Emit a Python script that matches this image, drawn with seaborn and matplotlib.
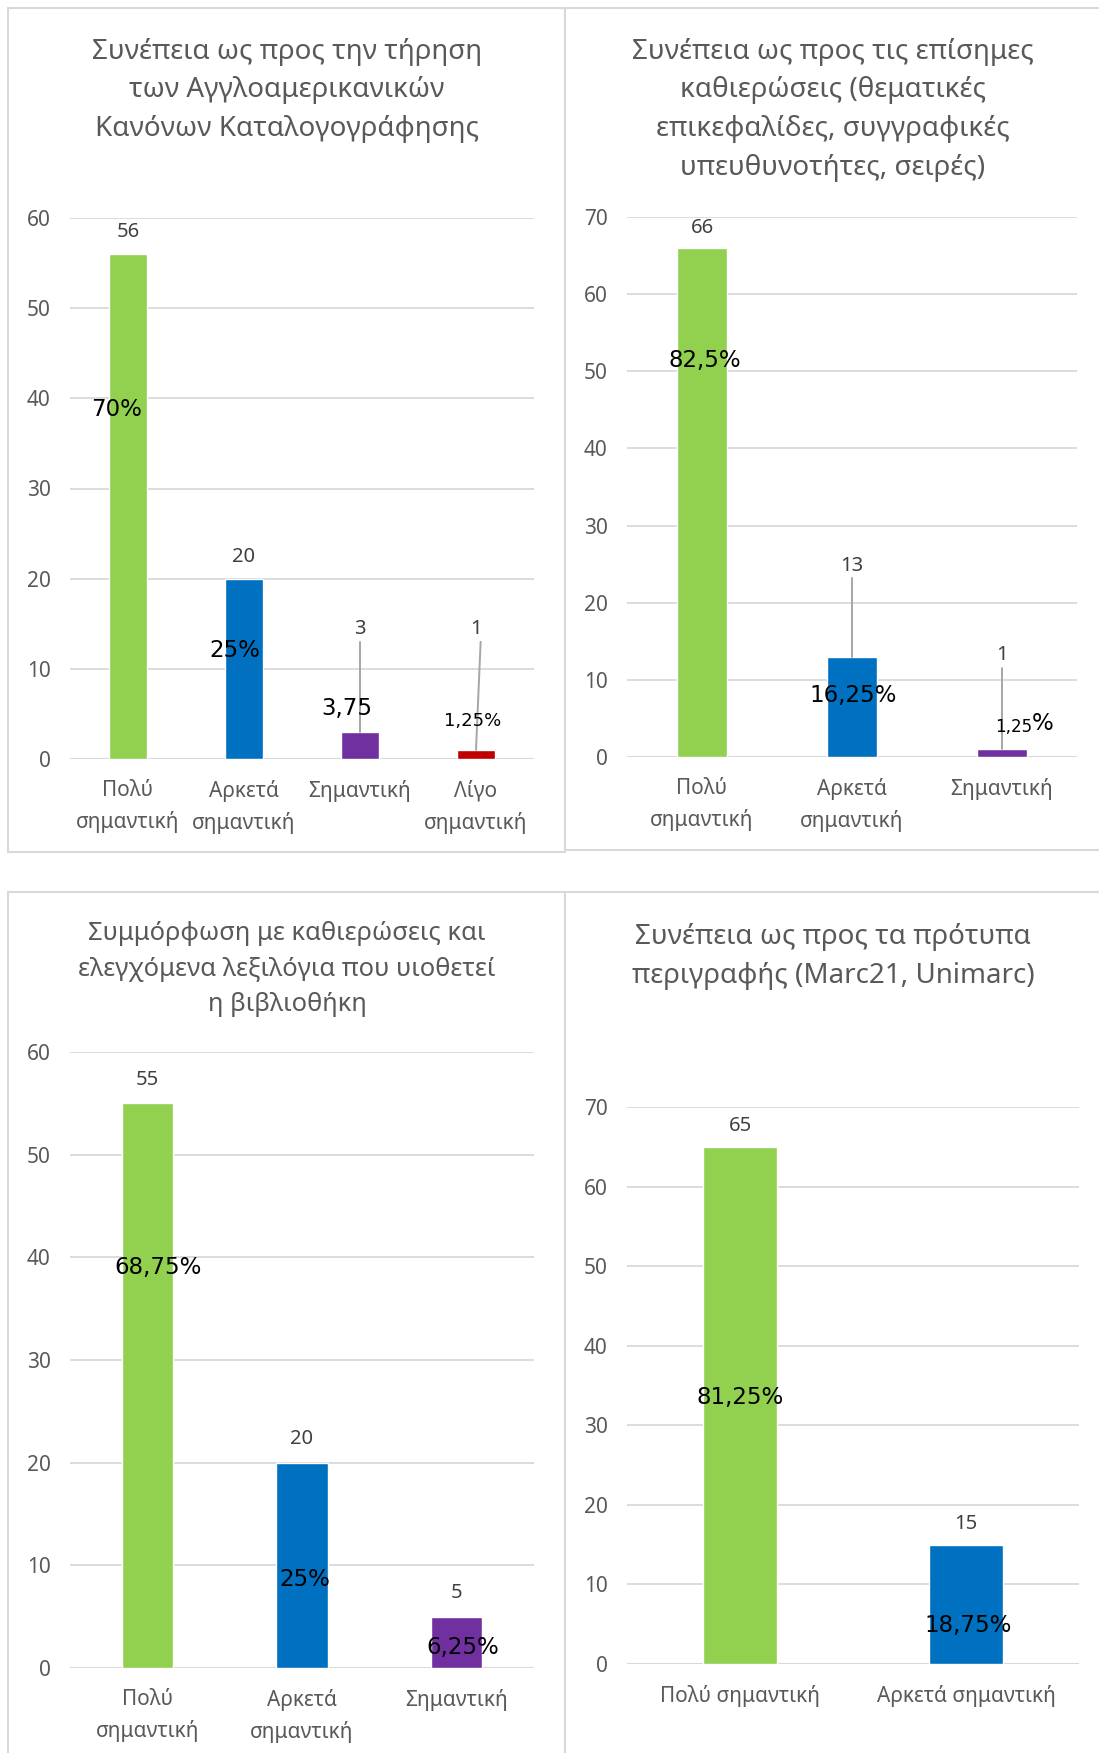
import matplotlib
matplotlib.use("Agg")
import matplotlib.pyplot as plt
import seaborn as sns
import pandas as pd
from matplotlib.patches import Rectangle

sns.set_theme(style="white")
plt.rcParams['font.family'] = ['Noto Sans', 'DejaVu Sans']

GREEN, BLUE, PURPLE, RED = "#92D050", "#0070C0", "#7030A0", "#C00000"

# ---------------- data ----------------
c1_title = "Συνέπεια ως προς την τήρηση\nτων Αγγλοαμερικανικών\nΚανόνων Καταλογογράφησης"
c1_categories = ["Πολύ\nσημαντική", "Αρκετά\nσημαντική", "Σημαντική", "Λίγο\nσημαντική"]
c1_values = [56, 20, 3, 1]
c1_pct = ["70%", "25%", "3,75", "1,25%"]

c2_title = "Συνέπεια ως προς τις επίσημες\nκαθιερώσεις (θεματικές\nεπικεφαλίδες, συγγραφικές\nυπευθυνοτήτες, σειρές)"
c2_categories = ["Πολύ\nσημαντική", "Αρκετά\nσημαντική", "Σημαντική"]
c2_values = [66, 13, 1]
c2_pct = ["82,5%", "16,25%", "1,25%"]

c3_title = "Συμμόρφωση με καθιερώσεις και\nελεγχόμενα λεξιλόγια που υιοθετεί\nη βιβλιοθήκη"
c3_categories = ["Πολύ\nσημαντική", "Αρκετά\nσημαντική", "Σημαντική"]
c3_values = [55, 20, 5]
c3_pct = ["68,75%", "25%", "6,25%"]

c4_title = "Συνέπεια ως προς τα πρότυπα\nπεριγραφής (Marc21, Unimarc)"
c4_categories = ["Πολύ σημαντική", "Αρκετά σημαντική"]
c4_values = [65, 15]
c4_pct = ["81,25%", "18,75%"]

colors = [GREEN, BLUE, PURPLE, RED]

W, H = 1099, 1753
fig = plt.figure(figsize=(W / 100, H / 100), dpi=100)
fig.patch.set_facecolor("white")


def px_rect(l, t, r, b):
    return [l / W, 1 - b / H, (r - l) / W, (b - t) / H]


# panel borders
BORDER = "#D9D9D9"
for (l, t, r, b) in [(8, 8, 565, 852), (565, 8, 1110, 850), (8, 892, 565, 1765), (565, 892, 1110, 1765)]:
    fig.add_artist(Rectangle((l / W, 1 - b / H), (r - l) / W, (b - t) / H,
                             transform=fig.transFigure, fill=False,
                             edgecolor=BORDER, linewidth=1.5))

GRAY_TXT = "#595959"
VAL_TXT = "#404040"
LEADER = "#A6A6A6"
PCT_FONT = ["DejaVu Sans"]


def draw(rect, title, title_xy, title_size, title_ls, cats, vals, pct, ymax,
         val_y, leaders, pct_pos, pct_sizes):
    ax = fig.add_axes(px_rect(*rect))
    df = pd.DataFrame({"cat": cats, "val": vals})
    sns.barplot(data=df, x="cat", y="val", hue="cat",
                palette=colors[:len(cats)], width=0.33,
                legend=False, saturation=1, ax=ax, zorder=3)
    ax.set_ylim(0, ymax)
    ax.set_xlim(-0.5, len(cats) - 0.5)
    ax.set_yticks(range(0, ymax + 1, 10))
    ax.yaxis.grid(True, color="#D9D9D9", linewidth=1.3, zorder=0)
    ax.set_axisbelow(True)
    for s in ax.spines.values():
        s.set_visible(False)
    ax.axhline(0, color="#D9D9D9", linewidth=1.5, zorder=2)
    ax.set_xlabel("")
    ax.set_ylabel("")
    ax.tick_params(axis="y", length=0, pad=14, labelsize=15, labelcolor=GRAY_TXT)
    ax.tick_params(axis="x", length=0, pad=15, labelsize=15, labelcolor=GRAY_TXT)
    for lab in ax.get_xticklabels():
        lab.set_linespacing(1.6)
    # value labels
    for i, (v, y) in enumerate(zip(vals, val_y)):
        ax.text(i, y, str(v), ha="center", va="bottom", fontsize=14.5, color=VAL_TXT, zorder=5)
    for (i, dx, y0, y1) in leaders:
        ax.plot([i + dx, i], [y0, y1], color=LEADER, linewidth=1.4, zorder=4)
    for i, ((dx, y), p, fs) in enumerate(zip(pct_pos, pct, pct_sizes)):
        if isinstance(fs, tuple):
            ax.text(i + dx, y, p[:-1], ha="right", va="center", fontsize=fs[0],
                    color="black", zorder=6, family=PCT_FONT)
            ax.text(i + dx, y + 0.4, "%", ha="left", va="center", fontsize=fs[1],
                    color="black", zorder=6, family=PCT_FONT)
        else:
            ax.text(i + dx, y, p, ha="center", va="center", fontsize=fs,
                    color="black", zorder=6, family=PCT_FONT)
    fig.text(title_xy[0] / W, 1 - title_xy[1] / H, title, ha="center", va="top",
             fontsize=title_size, color=GRAY_TXT, linespacing=title_ls)
    return ax


# chart 1
draw((70, 218, 534, 759), c1_title, (287, 38), 20, 1.5, c1_categories, c1_values, c1_pct, 60,
     val_y=[57.3, 21.3, 13.3, 13.3],
     leaders=[(2, 0, 13.0, 3), (3, 0.04, 13.0, 1)],
     pct_pos=[(-0.1, 38.8), (-0.08, 12.0), (-0.11, 5.6), (-0.03, 4.2)],
     pct_sizes=[16.5, 16.5, 16.5, 13])

# chart 2
draw((627, 217, 1077, 757), c2_title, (833, 38), 20, 1.5, c2_categories, c2_values, c2_pct, 70,
     val_y=[67.3, 23.5, 11.9],
     leaders=[(1, 0, 23.2, 13), (2, 0, 11.5, 1)],
     pct_pos=[(0.02, 51.4), (0.01, 8.0), (0.2, 3.9)],
     pct_sizes=[16.5, 16.5, (12, 16.5)])

# chart 3
draw((70, 1052, 534, 1668), c3_title, (287, 921), 18.4, 1.56, c3_categories, c3_values, c3_pct, 60,
     val_y=[56.3, 21.3, 6.3],
     leaders=[],
     pct_pos=[(0.07, 39.0), (0.02, 8.6), (0.04, 2.0)],
     pct_sizes=[16.5, 16.5, 16.5])

# chart 4
draw((627, 1107, 1079, 1664), c4_title, (833, 923), 20, 1.5, c4_categories, c4_values, c4_pct, 70,
     val_y=[66.3, 16.3],
     leaders=[],
     pct_pos=[(0.0, 33.5), (0.01, 4.8)],
     pct_sizes=[16.5, 16.5])

fig.savefig("out.png", dpi=100, facecolor="white")
